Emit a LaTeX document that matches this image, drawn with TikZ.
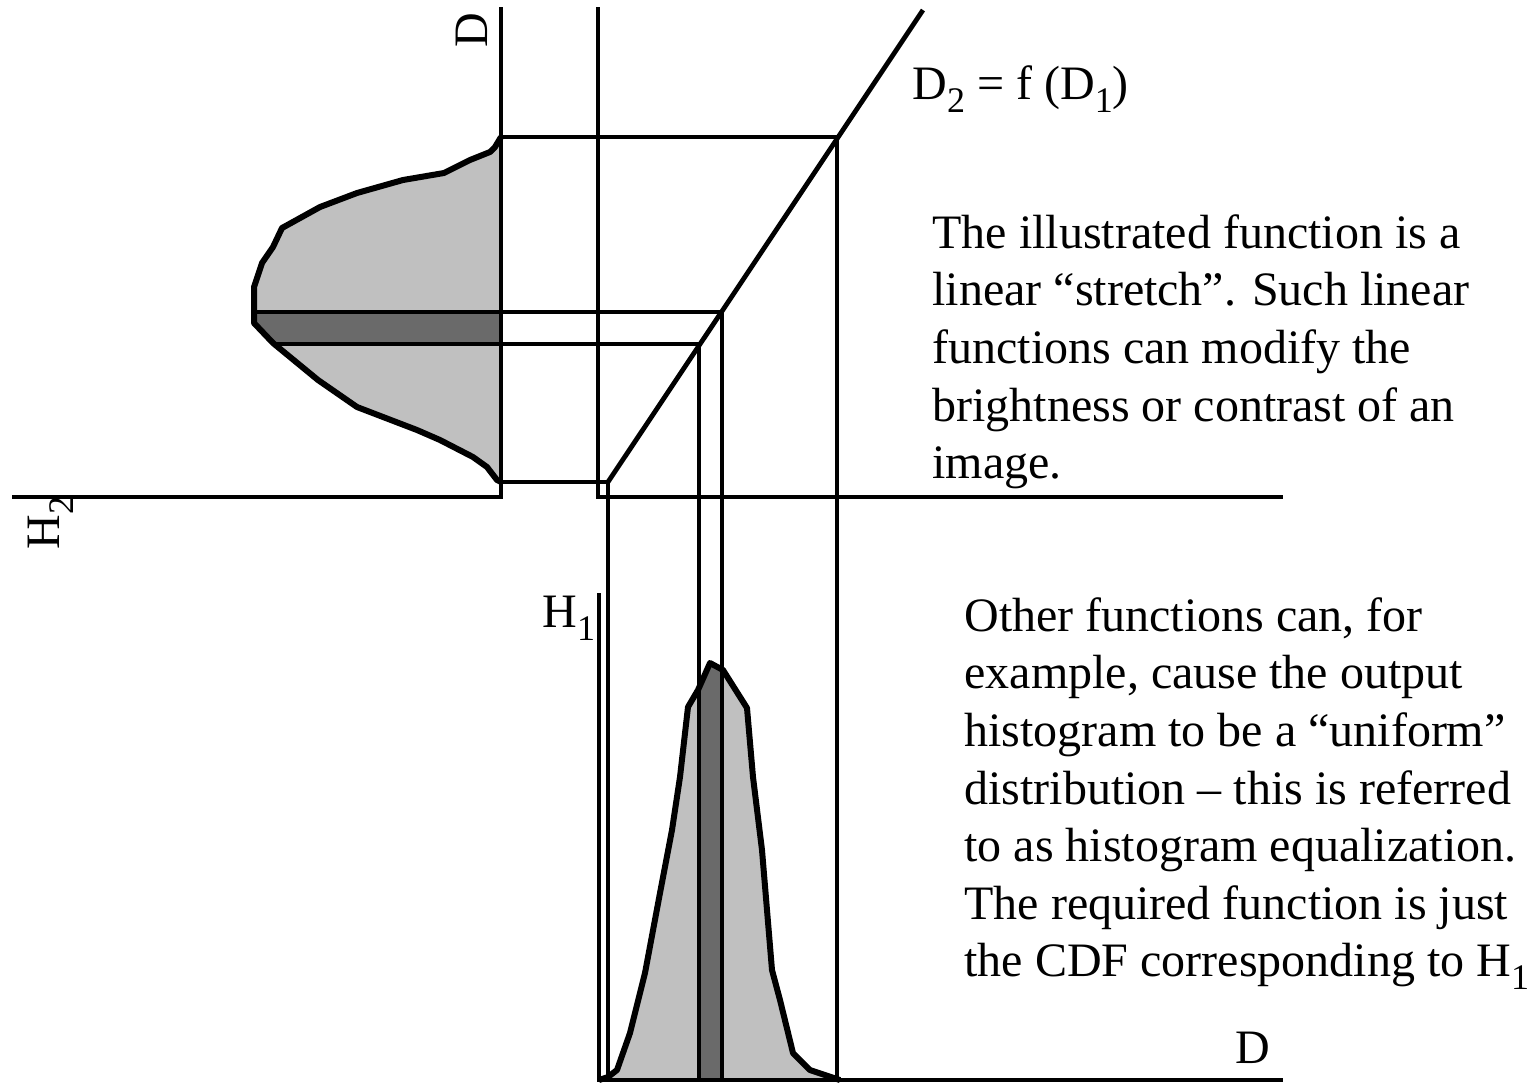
\documentclass[tikz,border=0pt]{standalone}
\usepackage{fontspec}
\setmainfont{Liberation Serif}
\definecolor{histgray}{RGB}{192,192,192}
\definecolor{bandgray}{RGB}{106,106,106}
% 下标：小一号并下移
\newcommand{\lowidx}[1]{\raisebox{-6.5pt}{\fontsize{18}{18}\selectfont #1}}

\begin{document}
\begin{tikzpicture}[
    % 以像素为单位，y 轴向下
    x=0.5pt, y=-0.5pt,
    line width=2.4pt,
    histfill/.style={fill=histgray},
    bandfill/.style={fill=bandgray},
    histedge/.style={line width=3pt, line join=round},
    lbl/.style={inner sep=0pt, font=\fontsize{24}{28.8}\selectfont},
    note/.style={lbl, align=left, anchor=north west}
  ]
  \useasboundingbox (0,0) rectangle (1533,1084);

  % --- 坐标点 ---
  \coordinate (Dtop) at (501,7);
  \coordinate (O2) at (501,497);
  \coordinate (H2end) at (12,497);
  \coordinate (Mtop) at (598,7);
  \coordinate (M) at (598,497);
  \coordinate (Mend) at (1283,497);
  \coordinate (H1top) at (599,593);
  \coordinate (O1) at (599,1080);
  \coordinate (D1end) at (1283,1080);
  % 函数直线上的点
  \coordinate (F0) at (608,482);
  \coordinate (F1) at (923,10);
  \coordinate (P) at (837,137);
  \coordinate (Q) at (722,312);
  \coordinate (R) at (699,344);

  % --- 直方图填充 ---
  \fill[histfill] (501,137) -- (495,147) -- (490,152) -- (470,160) -- (444,173)
    -- (403,180) -- (357,193) -- (320,207) -- (282,228) -- (273,247) -- (262,263)
    -- (254,287) -- (254,323) -- (273,343) -- (318,380) -- (357,407) -- (417,430)
    -- (440,440) -- (473,457) -- (487,467) -- (497,480) -- (501,482) -- cycle;
  \fill[bandfill] (254,312) -- (501,312) -- (501,344) -- (274,344) -- (254,323) -- cycle;
  \fill[histfill] (599,1080) -- (608,1077) -- (617,1070) -- (630,1033) -- (645,973)
    -- (660,893) -- (672,830) -- (680,777) -- (688,707) -- (698,690) -- (710,663)
    -- (723,670) -- (747,708) -- (753,777) -- (762,850) -- (772,970) -- (780,1000)
    -- (793,1053) -- (810,1070) -- (840,1080) -- cycle;
  \fill[bandfill] (699,1080) -- (699,690) -- (710,663) -- (722,669) -- (722,1080) -- cycle;

  % --- 坐标轴 ---
  \draw (H2end) -- (O2) -- (Dtop);
  \draw (Mtop) -- (M) -- (Mend);
  \draw (H1top) -- (O1) -- (D1end);
  \draw (F0) -- (F1); % D2 = f(D1)

  % --- 投影线 ---
  \draw (O2 |- P) -- (P) -- (P |- O1);
  \draw (254,312) -- (Q) -- (Q |- O1);
  \draw (274,344) -- (R) -- (R |- O1);
  \draw (O2 |- F0) -- (F0) -- (F0 |- O1);

  % --- 直方图轮廓 ---
  \draw[histedge] (501,137) -- (495,147) -- (490,152) -- (470,160) -- (444,173)
    -- (403,180) -- (357,193) -- (320,207) -- (282,228) -- (273,247) -- (262,263)
    -- (254,287) -- (254,323) -- (273,343) -- (318,380) -- (357,407) -- (417,430)
    -- (440,440) -- (473,457) -- (487,467) -- (497,480) -- (501,482);
  \draw[histedge] (599,1080) -- (608,1077) -- (617,1070) -- (630,1033) -- (645,973)
    -- (660,893) -- (672,830) -- (680,777) -- (688,707) -- (698,690) -- (710,663)
    -- (723,670) -- (747,708) -- (753,777) -- (762,850) -- (772,970) -- (780,1000)
    -- (793,1053) -- (810,1070) -- (840,1080);

  % --- 标注 ---
  \node[lbl, rotate=90, anchor=base west] (Dlbl) at (487,50) {D};
  \node[lbl, rotate=90, anchor=base west] (H2lbl) at (60,552) {H\lowidx{2}};
  \node[lbl, anchor=base west] (H1lbl) at (540,627) {H\lowidx{1}};
  \node[lbl, anchor=base west] (D1lbl) at (1233,1063) {D};
  \node[lbl, anchor=base west] (flbl) at (910,99) {D\lowidx{2} = f (D\lowidx{1})};

  \node[note] (stretch) at (930,212) {The illustrated function is a\\
    linear ``stretch''. Such linear\\
    functions can modify the\\
    brightness or contrast of an\\
    image.};
  \node[note] (equal) at (962,595) {Other functions can, for\\
    example, cause the output\\
    histogram to be a ``uniform''\\
    distribution -- this is referred\\
    to as histogram equalization.\\
    The required function is just\\
    the CDF corresponding to H\lowidx{1}};

\end{tikzpicture}
\end{document}
